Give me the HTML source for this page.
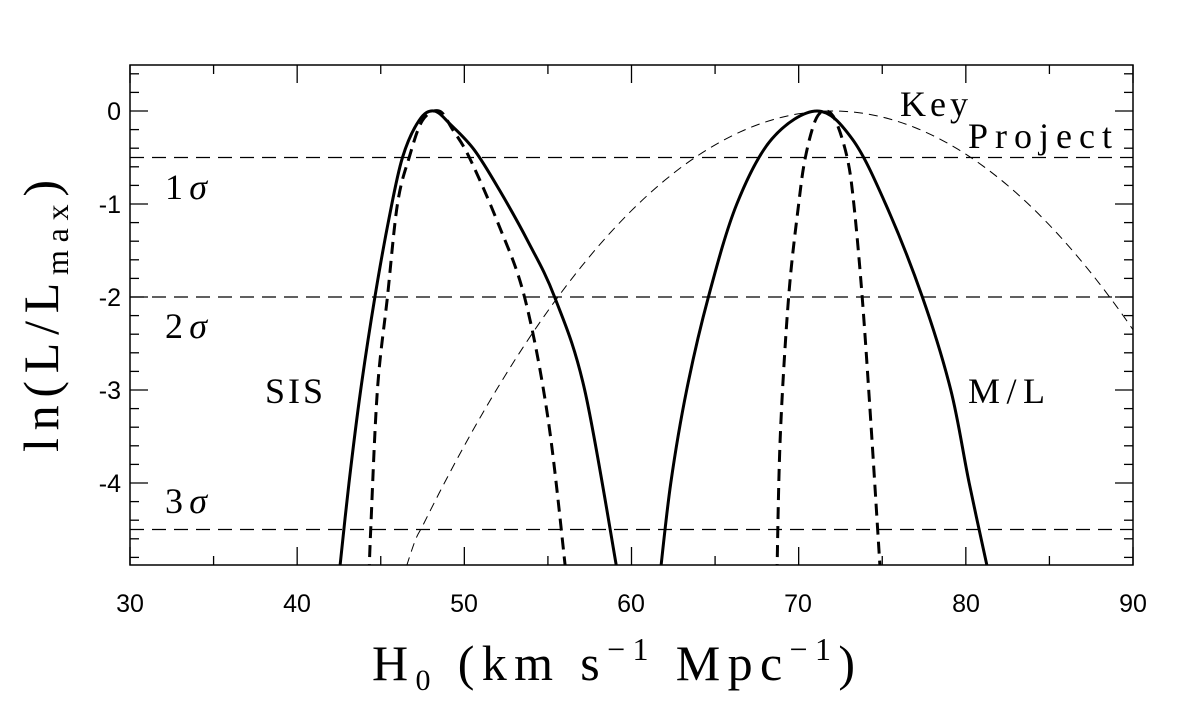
<!DOCTYPE html>
<html><head><meta charset="utf-8"><style>
html,body{margin:0;padding:0;background:#fff;}
svg{display:block;}
text{font-family:"Liberation Serif",serif;fill:#000;}
.t{font-family:"Liberation Sans",sans-serif;font-size:25px;}
</style></head><body>
<svg id="s" width="1196" height="704" viewBox="0 0 1196 704" xmlns="http://www.w3.org/2000/svg">
<defs><clipPath id="cp"><rect x="130" y="65" width="1003" height="500"/></clipPath></defs>
<rect x="130" y="65" width="1003" height="500" fill="none" stroke="#000" stroke-width="1.5"/>
<g id="ticks" stroke="#000" stroke-width="1.3"></g>
<g stroke="#000" stroke-width="1.2" stroke-dasharray="14,8">
<line x1="130" y1="157.5" x2="1133" y2="157.5"/>
<line x1="130" y1="297" x2="1133" y2="297"/>
<line x1="130" y1="529.5" x2="1133" y2="529.5"/>
</g>
<g id="curves" clip-path="url(#cp)"></g>
<g text-anchor="end">
<text class="t" x="121" y="120">0</text>
<text class="t" x="121" y="213">-1</text>
<text class="t" x="121" y="306">-2</text>
<text class="t" x="121" y="399">-3</text>
<text class="t" x="121" y="492">-4</text>
</g>
<text class="t" x="130" y="612" text-anchor="middle">30</text>
<text class="t" x="297" y="612" text-anchor="middle">40</text>
<text class="t" x="464" y="612" text-anchor="middle">50</text>
<text class="t" x="631" y="612" text-anchor="middle">60</text>
<text class="t" x="798" y="612" text-anchor="middle">70</text>
<text class="t" x="966" y="612" text-anchor="middle">80</text>
<text class="t" x="1133" y="612" text-anchor="middle">90</text>
<text x="165" y="199" font-size="36" textLength="42" lengthAdjust="spacing">1<tspan font-style="italic">σ</tspan></text>
<text x="165" y="338" font-size="36" textLength="42" lengthAdjust="spacing">2<tspan font-style="italic">σ</tspan></text>
<text x="165" y="513" font-size="36" textLength="42" lengthAdjust="spacing">3<tspan font-style="italic">σ</tspan></text>
<text x="265" y="403" font-size="36" textLength="58" lengthAdjust="spacing">SIS</text>
<text x="968" y="403" font-size="36" textLength="77" lengthAdjust="spacing">M/L</text>
<text x="900" y="116" font-size="36" textLength="68" lengthAdjust="spacing">Key</text>
<text x="968" y="148" font-size="36" textLength="144" lengthAdjust="spacing">Project</text>
<text x="372" y="680" font-size="50" textLength="483" lengthAdjust="spacing">H<tspan font-size="30" dy="10">0</tspan><tspan dy="-10"> (km s</tspan><tspan font-size="32" dy="-20">−1</tspan><tspan dy="20"> Mpc</tspan><tspan font-size="32" dy="-20">−1</tspan><tspan dy="20">)</tspan></text>
<text transform="translate(58,452) rotate(-90)" font-size="50" textLength="272" lengthAdjust="spacing">ln(L/L<tspan font-size="32" dy="10">max</tspan><tspan dy="-10">)</tspan></text>
</svg>
<script>
var X=function(h){return 130+(h-30)*1003/60;};
var Y=function(l){return 111-l*93;};
var tk=document.getElementById('ticks'),s='';
for(var h=30;h<=90;h+=5){var L=(h%10==0)?18:9;var x=X(h);
s+='<line x1="'+x+'" y1="565" x2="'+x+'" y2="'+(565-L)+'"/><line x1="'+x+'" y1="65" x2="'+x+'" y2="'+(65+L)+'"/>';}
for(var i=-24;i<=2;i++){var l=i*0.2;var y=Y(l);if(y>565||y<65)continue;var L=(i%5==0)?18:9;
s+='<line x1="130" y1="'+y+'" x2="'+(130+L)+'" y2="'+y+'"/><line x1="1133" y1="'+y+'" x2="'+(1133-L)+'" y2="'+y+'"/>';}
tk.innerHTML=s;
function path(p){var q=p.map(function(a){return [X(a[0]),Y(a[1])];});
var d='M'+q[0][0]+','+q[0][1];
for(var i=0;i<q.length-1;i++){var p0=q[i-1]||q[i],p1=q[i],p2=q[i+1],p3=q[i+2]||q[i+1];
d+=' C'+(p1[0]+(p2[0]-p0[0])/6)+','+(p1[1]+(p2[1]-p0[1])/6)+' '+(p2[0]-(p3[0]-p1[0])/6)+','+(p2[1]-(p3[1]-p1[1])/6)+' '+p2[0]+','+p2[1];}
return d;}
var C=[
{w:3,da:'',p:[[42.5,-5.0],[43.1,-4],[43.8,-3],[44.65,-2],[45.5,-1.15],[46.3,-0.5],[47.3,-0.1],[48.2,0],[49.2,-0.15],[50.6,-0.42],[52.1,-0.85],[53.8,-1.4],[55.4,-2],[57.2,-3],[59.2,-5.0]]},
{w:3,da:'12,7',p:[[44.3,-5.0],[44.4,-4.5],[44.8,-3],[45.4,-2],[46.0,-1],[46.7,-0.5],[47.5,-0.1],[48.5,0],[49.3,-0.2],[50.3,-0.5],[52,-1.2],[53.6,-2],[55,-3.3],[56.1,-5.0]]},
{w:3,da:'',p:[[61.7,-5.0],[62.35,-4],[63.3,-3],[64.6,-2],[66.3,-1],[68.4,-0.3],[71.1,0],[73.2,-0.3],[75.2,-1],[77.4,-2],[79.1,-3],[80.2,-4],[81.4,-5.0]]},
{w:3,da:'12,7',p:[[68.7,-5.0],[68.9,-3.5],[69.4,-2],[70,-1],[70.4,-0.5],[71,-0.1],[71.6,0],[72.2,-0.1],[72.9,-0.5],[73.3,-1],[73.8,-2],[74.3,-3.3],[74.9,-5.0]]}
];
var kp=[[46.0,-5.2]];for(var h=47;h<=90.01;h+=0.5){var sg=h<72?8.2:8.3;kp.push([h,-(h-72)*(h-72)/(2*sg*sg)]);}
C.push({w:1,da:'9,6',p:kp});
var g='';C.forEach(function(c){g+='<path d="'+path(c.p)+'" fill="none" stroke="#000" stroke-width="'+c.w+'"'+(c.da?' stroke-dasharray="'+c.da+'"':'')+'/>';});
document.getElementById('curves').innerHTML=g;
</script>
</body></html>
